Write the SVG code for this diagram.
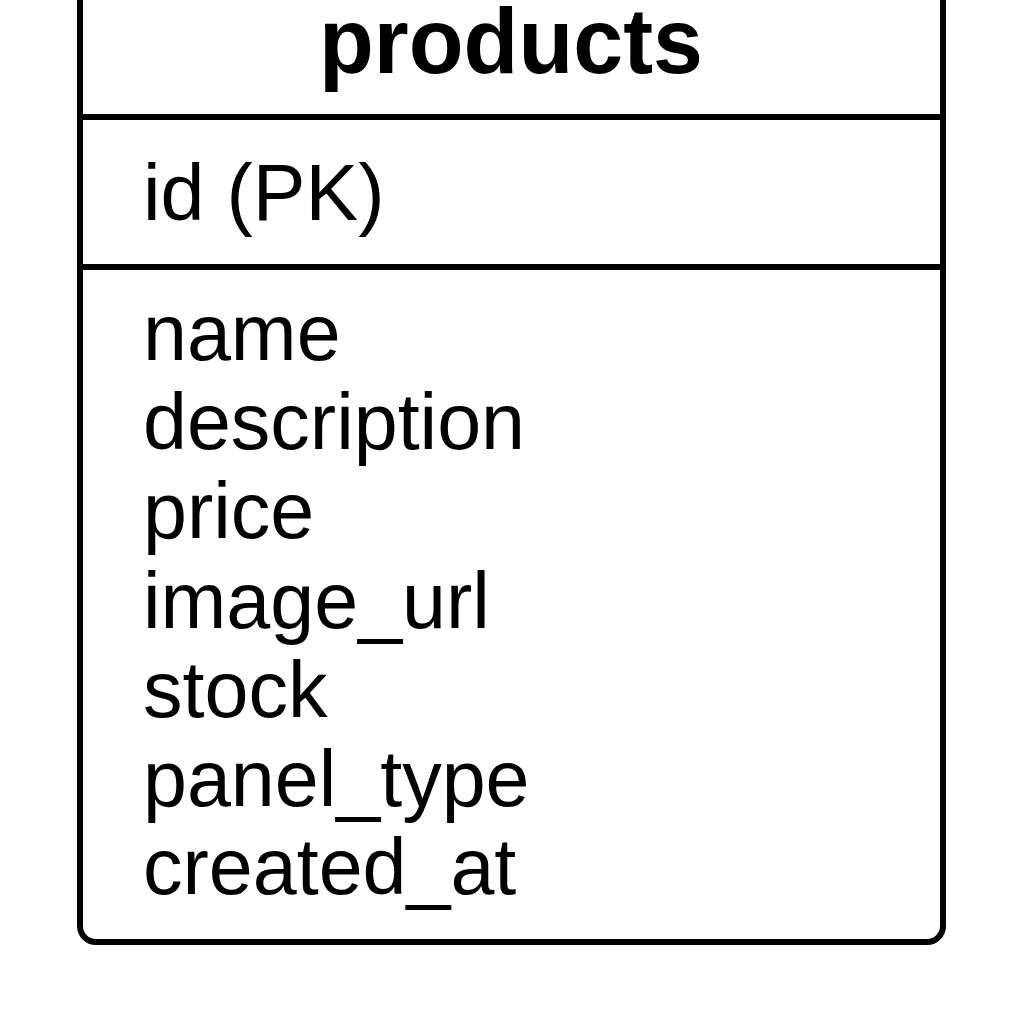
<svg xmlns="http://www.w3.org/2000/svg" width="1024" height="1024" viewBox="0 0 1024 1024">
  <style>
    .frame { fill: #ffffff; stroke: #000000; stroke-width: 6; }
    .div { stroke: #000000; stroke-width: 6; }
    .title { font-family: "Liberation Sans", Arial, sans-serif; font-weight: bold; font-size: 93px; fill: #000000; }
    .field { font-family: "Liberation Sans", Arial, sans-serif; font-size: 79px; fill: #000000; }
  </style>
  <rect x="0" y="0" width="1024" height="1024" fill="#ffffff"/>
  <g id="products">
    <path class="frame" d="M80,-20 V926 A16,16 0 0 0 96,942 H927 A16,16 0 0 0 943,926 V-20"/>
    <line class="div" x1="80" y1="117" x2="943" y2="117"/>
    <line class="div" x1="80" y1="267" x2="943" y2="267"/>
    <text class="title" x="511" y="73" text-anchor="middle" textLength="384" lengthAdjust="spacingAndGlyphs">products</text>
    <text class="field" x="143" y="220">id (PK)</text>
    <text class="field" x="143" y="360">name</text>
    <text class="field" x="143" y="449">description</text>
    <text class="field" x="143" y="538">price</text>
    <text class="field" x="143" y="628">image_url</text>
    <text class="field" x="143" y="717">stock</text>
    <text class="field" x="143" y="806">panel_type</text>
    <text class="field" x="143" y="894">created_at</text>
  </g>
  <g id="connectors"/>
</svg>
